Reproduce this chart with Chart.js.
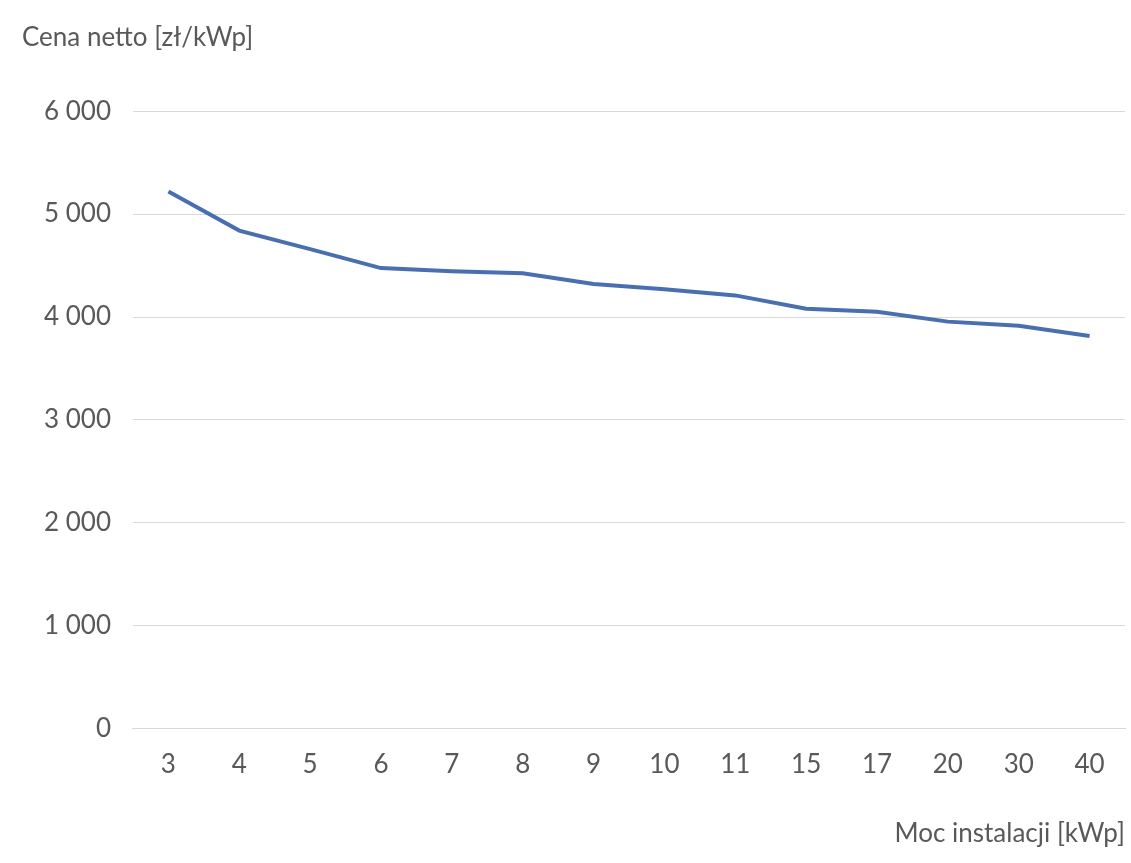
<!DOCTYPE html>
<html>
<head>
<meta charset="utf-8">
<script src="https://cdn.jsdelivr.net/npm/chart.js@4"></script>
<style>
  body { margin: 0; background: #fff; }
  #wrap { width: 1131px; height: 863px; }
</style>
</head>
<body>
<div id="wrap"><canvas id="myChart"></canvas></div>
<script>
const labels = ['3', '4', '5', '6', '7', '8', '9', '10', '11', '15', '17', '20', '30', '40'];
const prices = [5220, 4840, 4660, 4475, 4445, 4425, 4320, 4270, 4210, 4080, 4050, 3955, 3915, 3815];

Chart.defaults.font.family = 'Lato, "Open Sans", sans-serif';
Chart.defaults.color = '#595959';

new Chart(document.getElementById('myChart'), {
  type: 'line',
  data: {
    labels: labels,
    datasets: [{
      data: prices,
      borderColor: '#4a6fb0',
      borderWidth: 4,
      pointRadius: 0,
      tension: 0
    }]
  },
  options: {
    responsive: true,
    maintainAspectRatio: false,
    animation: false,
    layout: { padding: { left: 22, right: 6, top: 22, bottom: 10 } },
    plugins: {
      legend: { display: false },
      title: {
        display: true,
        text: 'Cena netto [zł/kWp]',
        align: 'start',
        font: { size: 26, weight: 'normal' },
        color: '#595959',
        padding: { bottom: 58 }
      }
    },
    scales: {
      x: {
        offset: true,
        grid: { display: false },
        border: { color: '#d9d9d9' },
        ticks: { font: { size: 26 }, padding: 12 },
        title: {
          display: true,
          text: 'Moc instalacji [kWp]',
          align: 'end',
          font: { size: 26 },
          padding: { top: 26 }
        }
      },
      y: {
        min: 0,
        max: 6000,
        ticks: {
          stepSize: 1000,
          font: { size: 26 },
          padding: 22,
          callback: v => v === 0 ? '0' : (v / 1000) + ' 000'
        },
        grid: { color: '#d9d9d9', drawTicks: false },
        border: { display: false }
      }
    }
  }
});
</script>
</body>
</html>
